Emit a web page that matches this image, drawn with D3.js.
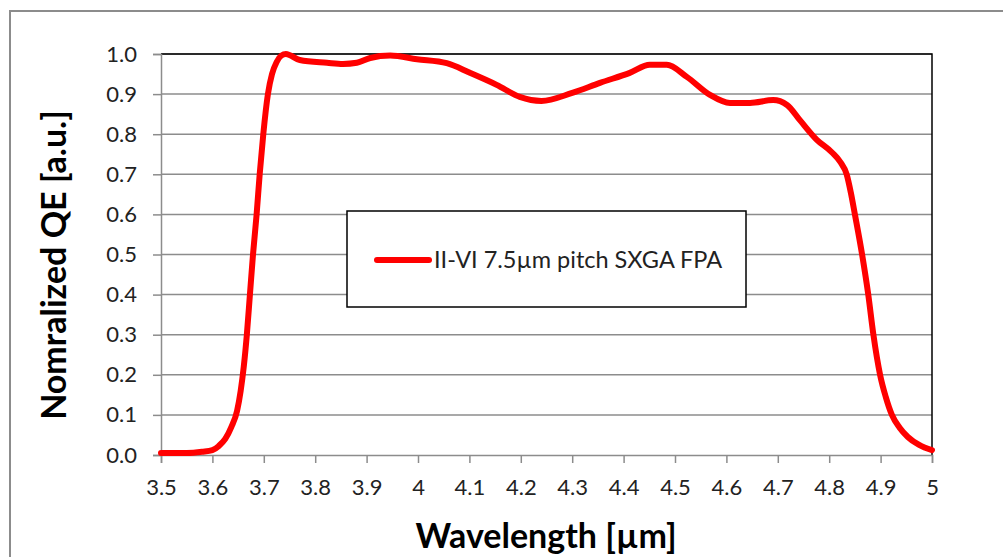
<!DOCTYPE html>
<html>
<head>
<meta charset="utf-8">
<script src="https://cdn.jsdelivr.net/npm/d3@7"></script>
<style>
  body { margin: 0; background: #fff; }
  text { font-family: Lato, "Open Sans", sans-serif; }
</style>
</head>
<body>
<div class="board"></div>
<script>

// wavelength in um, normalized QE
var wavelength = [3.5, 3.55, 3.58, 3.6, 3.612, 3.625, 3.637, 3.648, 3.655, 3.661, 3.667, 3.673, 3.679, 3.686,
  3.692, 3.699, 3.708, 3.716, 3.725, 3.734, 3.743,
  3.77, 3.823, 3.854, 3.881, 3.907, 3.946, 3.998, 4.056, 4.101, 4.153, 4.198, 4.24, 4.3, 4.354, 4.412,
  4.451, 4.484, 4.523, 4.568, 4.607, 4.646, 4.691, 4.718, 4.743, 4.776, 4.805, 4.822, 4.834, 4.842, 4.85,
  4.864, 4.876, 4.886, 4.899, 4.91, 4.922, 4.937, 4.953, 4.975, 5.0];
var qe = [0.005, 0.005, 0.008, 0.012, 0.022, 0.04, 0.07, 0.11, 0.16, 0.22, 0.3, 0.4, 0.5, 0.6,
  0.7, 0.8, 0.9, 0.95, 0.98, 0.996, 1.0,
  0.985, 0.978, 0.975, 0.978, 0.99, 0.996, 0.987, 0.977, 0.953, 0.923, 0.893, 0.883, 0.903, 0.928, 0.953,
  0.973, 0.973, 0.943, 0.898, 0.878, 0.878, 0.885, 0.873, 0.835, 0.786, 0.755, 0.73, 0.7, 0.655, 0.6,
  0.5, 0.4, 0.3, 0.2, 0.145, 0.1, 0.068, 0.045, 0.025, 0.012];

var xTicks = [3.5, 3.6, 3.7, 3.8, 3.9, 4, 4.1, 4.2, 4.3, 4.4, 4.5, 4.6, 4.7, 4.8, 4.9, 5];
var yTicks = [0, 0.1, 0.2, 0.3, 0.4, 0.5, 0.6, 0.7, 0.8, 0.9, 1.0];
var seriesName = "II-VI 7.5\u00b5m pitch SXGA FPA";

var svg = d3.select('.board').append('svg')
            .attr('width', 1003)
            .attr('height', 557);

// outer chart frame
svg.append('rect')
   .attr('x', 10).attr('y', 11)
   .attr('width', 1010).attr('height', 560)
   .attr('fill', '#fff')
   .attr('stroke', '#8c8c8c')
   .attr('stroke-width', 2);

var plotL = 161, plotR = 932, plotT = 54, plotB = 455;

var x = d3.scaleLinear().domain([3.5, 5]).range([plotL, plotR]);
var y = d3.scaleLinear().domain([0, 1]).range([plotB, plotT]);

// gridlines
svg.append('g')
   .selectAll('line')
   .data(yTicks.slice(1))
   .enter()
   .append('line')
   .attr('x1', plotL).attr('x2', plotR)
   .attr('y1', function(d){ return y(d); })
   .attr('y2', function(d){ return y(d); })
   .attr('stroke', '#8c8c8c')
   .attr('stroke-width', 1.5);

// plot area top/right border
svg.append('path')
   .attr('d', 'M' + plotL + ',' + y(1) + 'H' + plotR + 'V' + plotB)
   .attr('fill', 'none')
   .attr('stroke', '#000')
   .attr('stroke-width', 1.5);

var yAxis = svg.append('g')
   .attr('transform', 'translate(' + plotL + ',0)')
   .call(d3.axisLeft(y).tickValues(yTicks).tickSize(8).tickPadding(16)
          .tickFormat(d3.format('.1f')));

var xAxis = svg.append('g')
   .attr('transform', 'translate(0,' + plotB + ')')
   .call(d3.axisBottom(x).tickValues(xTicks).tickSize(8).tickPadding(16)
          .tickFormat(function(d){ return d === 4 || d === 5 ? String(d) : d.toFixed(1); }));

[xAxis, yAxis].forEach(function(a) {
  a.select('.domain').attr('stroke', '#8c8c8c').attr('stroke-width', 1.5);
  a.selectAll('.tick line').attr('stroke', '#8c8c8c').attr('stroke-width', 1.5);
  a.selectAll('.tick text').attr('font-size', 22).attr('fill', '#222')
   .style('font-family', 'Lato, "Open Sans", sans-serif');
});

// the curve
var pts = wavelength.map(function(w, i){ return [w, qe[i]]; });
var line = d3.line()
   .x(function(d){ return x(d[0]); })
   .y(function(d){ return y(d[1]); })
   .curve(d3.curveMonotoneX);

svg.append('path')
   .datum(pts)
   .attr('d', line)
   .attr('fill', 'none')
   .attr('stroke', '#ff0000')
   .attr('stroke-width', 6)
   .attr('stroke-linejoin', 'round')
   .attr('stroke-linecap', 'round');

// legend
var legend = svg.append('g');
legend.append('rect')
   .attr('x', 347).attr('y', 211)
   .attr('width', 399).attr('height', 96)
   .attr('fill', '#fff')
   .attr('stroke', '#000')
   .attr('stroke-width', 1.5);
legend.append('line')
   .attr('x1', 377).attr('x2', 429)
   .attr('y1', 260).attr('y2', 260)
   .attr('stroke', '#ff0000')
   .attr('stroke-width', 6)
   .attr('stroke-linecap', 'round');
legend.append('text')
   .attr('x', 434).attr('y', 268)
   .attr('font-size', 23.5)
   .attr('fill', '#222')
   .text(seriesName);

// axis titles
svg.append('text')
   .attr('x', 546).attr('y', 548)
   .attr('text-anchor', 'middle')
   .attr('font-size', 34)
   .attr('font-weight', 'bold')
   .text('Wavelength [\u00b5m]');

svg.append('text')
   .attr('transform', 'translate(66,265) rotate(-90)')
   .attr('text-anchor', 'middle')
   .attr('font-size', 34)
   .attr('font-weight', 'bold')
   .text('Nomralized QE [a.u.]');

</script>
</body>
</html>
